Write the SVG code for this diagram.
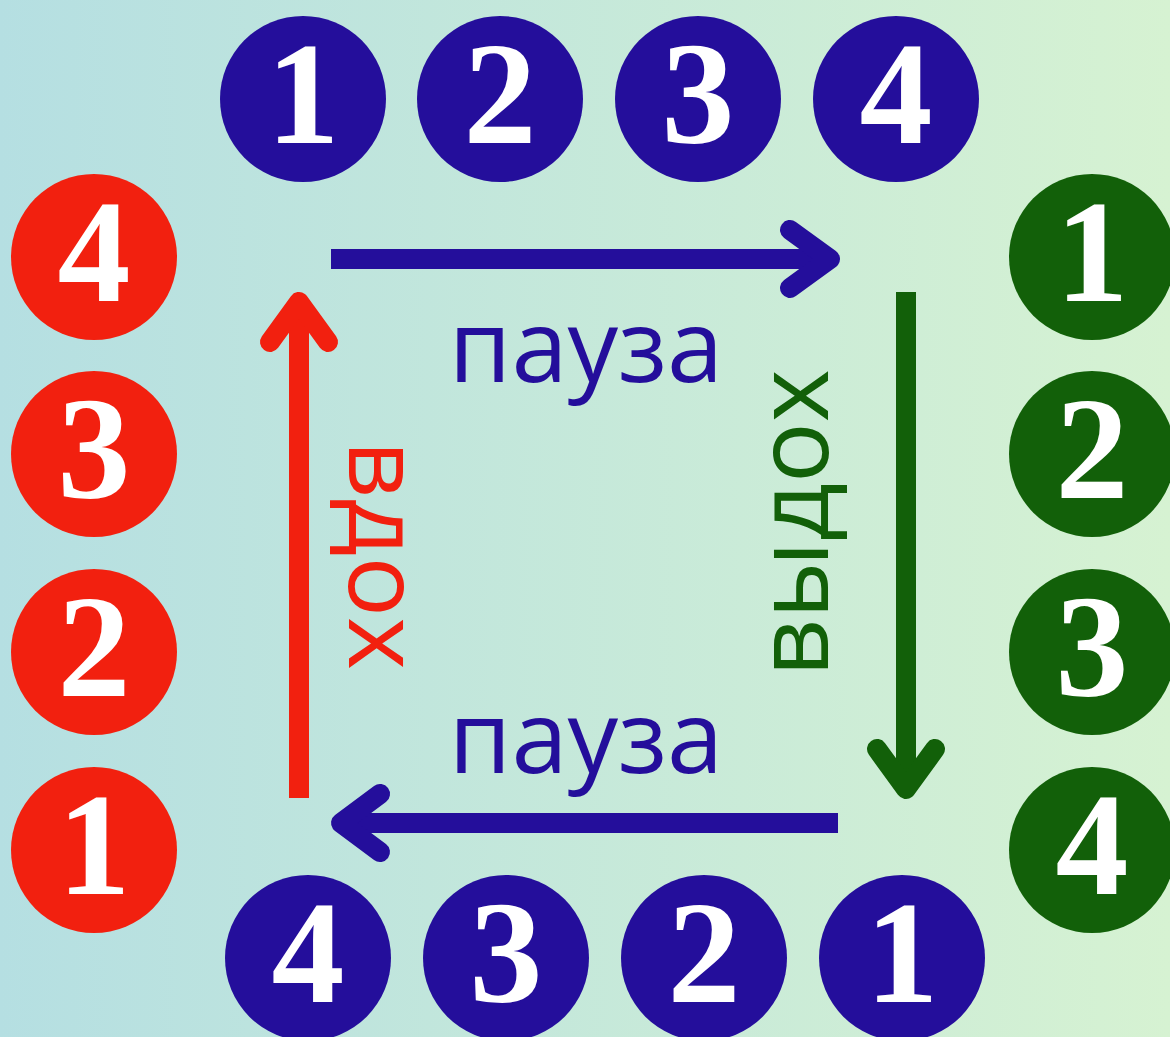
<svg xmlns="http://www.w3.org/2000/svg" width="1170" height="1037" viewBox="0 0 1170 1037">
<defs>
<linearGradient id="bg" x1="0" y1="0" x2="1" y2="0">
<stop offset="0" stop-color="#b5dfe2"/>
<stop offset="1" stop-color="#d6f2d2"/>
</linearGradient>
<style>
.blue{fill:#240e9b}
.red{fill:#f2200f}
.green{fill:#126009}
.num{font-size:146px;fill:#fff;text-anchor:middle}
.lbl{font-family:"Open Sans","Noto Sans",sans-serif;font-size:101px;text-anchor:middle}
.shaft{stroke-width:20;fill:none}
.head{stroke-width:20;fill:none;stroke-linecap:round;stroke-linejoin:round}
</style>
</defs>
<rect width="1170" height="1037" fill="url(#bg)"/>
<g id="connectors">
<line class="shaft" x1="331" y1="259" x2="828" y2="259" stroke="#240e9b"/>
<polyline class="head" points="790,230 830,259 790,288" stroke="#240e9b"/>
<line class="shaft" x1="906" y1="292" x2="906" y2="785" stroke="#126009"/>
<polyline class="head" points="877,749 906,789 935,749" stroke="#126009"/>
<line class="shaft" x1="838" y1="823" x2="345" y2="823" stroke="#240e9b"/>
<polyline class="head" points="380,794 341,823 380,852" stroke="#240e9b"/>
<line class="shaft" x1="299" y1="798" x2="299" y2="305" stroke="#f2200f"/>
<polyline class="head" points="270,342 299,302 328,342" stroke="#f2200f"/>
</g>
<g id="labels">
<text class="lbl blue" x="586" y="382">пауза</text>
<text class="lbl blue" x="586" y="773">пауза</text>
<text class="lbl red" transform="translate(349,555) rotate(90)">вдох</text>
<text class="lbl green" transform="translate(828,523) rotate(-90)">выдох</text>
</g>
<g id="nodes" font-family="Liberation Serif, Times New Roman, serif" font-weight="700">
<g id="top-1"><circle class="blue" cx="303" cy="99" r="83"/><text class="num" x="303" y="143">1</text></g>
<g id="top-2"><circle class="blue" cx="500" cy="99" r="83"/><text class="num" x="500" y="143">2</text></g>
<g id="top-3"><circle class="blue" cx="698" cy="99" r="83"/><text class="num" x="698" y="143">3</text></g>
<g id="top-4"><circle class="blue" cx="896" cy="99" r="83"/><text class="num" x="896" y="143">4</text></g>
<g id="right-1"><circle class="green" cx="1092" cy="257" r="83"/><text class="num" x="1092" y="301">1</text></g>
<g id="right-2"><circle class="green" cx="1092" cy="454" r="83"/><text class="num" x="1092" y="498">2</text></g>
<g id="right-3"><circle class="green" cx="1092" cy="652" r="83"/><text class="num" x="1092" y="696">3</text></g>
<g id="right-4"><circle class="green" cx="1092" cy="850" r="83"/><text class="num" x="1092" y="894">4</text></g>
<g id="bottom-4"><circle class="blue" cx="308" cy="958" r="83"/><text class="num" x="308" y="1002">4</text></g>
<g id="bottom-3"><circle class="blue" cx="506" cy="958" r="83"/><text class="num" x="506" y="1002">3</text></g>
<g id="bottom-2"><circle class="blue" cx="704" cy="958" r="83"/><text class="num" x="704" y="1002">2</text></g>
<g id="bottom-1"><circle class="blue" cx="902" cy="958" r="83"/><text class="num" x="902" y="1002">1</text></g>
<g id="left-4"><circle class="red" cx="94" cy="257" r="83"/><text class="num" x="94" y="301">4</text></g>
<g id="left-3"><circle class="red" cx="94" cy="454" r="83"/><text class="num" x="94" y="498">3</text></g>
<g id="left-2"><circle class="red" cx="94" cy="652" r="83"/><text class="num" x="94" y="696">2</text></g>
<g id="left-1"><circle class="red" cx="94" cy="850" r="83"/><text class="num" x="94" y="894">1</text></g>
</g>
</svg>
